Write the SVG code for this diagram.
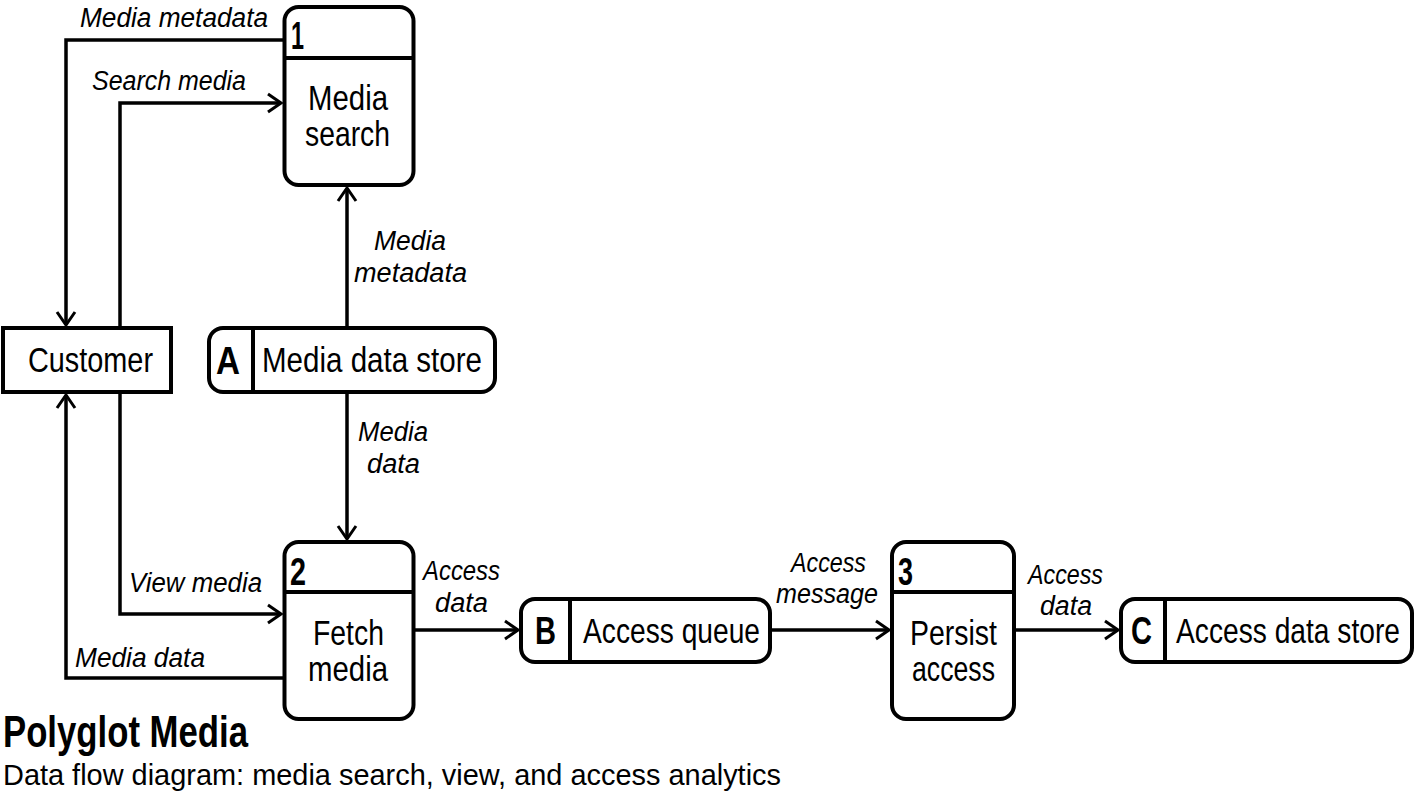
<svg xmlns="http://www.w3.org/2000/svg" width="1415" height="798" viewBox="0 0 1415 798">
<style>
text{font-family:"Liberation Sans Narrow","Liberation Sans","Open Sans",sans-serif;fill:#000}
.n{font-size:35px}
.num{font-size:38px;font-weight:bold}
.lab{font-size:27px;font-style:italic}
.box{fill:#fff;stroke:#000;stroke-width:4}
.div{stroke:#000;stroke-width:4}
.con{fill:none;stroke:#000;stroke-width:3.5;marker-end:url(#arr)}
</style>
<defs>
<marker id="arr" markerUnits="userSpaceOnUse" viewBox="-16 -12 18 24" refX="0" refY="0" markerWidth="18" markerHeight="24" orient="auto">
<path d="M-13,-9 L0,0 L-13,9" fill="none" stroke="#000" stroke-width="3"/>
</marker>
</defs>
<rect width="1415" height="798" fill="#fff"/>
<g id="connectors">
<path class="con" d="M284,40 H66 V325"/>
<path class="con" d="M120,327 V103 H281"/>
<path class="con" d="M347,327 V188"/>
<path class="con" d="M347,393 V539"/>
<path class="con" d="M284,678 H66 V395"/>
<path class="con" d="M120,393 V614 H281"/>
<path class="con" d="M414,630 H518"/>
<path class="con" d="M771,630 H889"/>
<path class="con" d="M1015,630 H1118"/>
<text class="lab" x="80" y="27" textLength="188" lengthAdjust="spacingAndGlyphs">Media metadata</text>
<text class="lab" x="92" y="90" textLength="154" lengthAdjust="spacingAndGlyphs">Search media</text>
<text class="lab" x="374" y="250" textLength="72" lengthAdjust="spacingAndGlyphs">Media</text>
<text class="lab" x="354" y="282" textLength="113" lengthAdjust="spacingAndGlyphs">metadata</text>
<text class="lab" x="358" y="441" textLength="70" lengthAdjust="spacingAndGlyphs">Media</text>
<text class="lab" x="367" y="473" textLength="53" lengthAdjust="spacingAndGlyphs">data</text>
<text class="lab" x="129" y="592" textLength="133" lengthAdjust="spacingAndGlyphs">View media</text>
<text class="lab" x="75" y="667" textLength="130" lengthAdjust="spacingAndGlyphs">Media data</text>
<text class="lab" x="423" y="580" textLength="77" lengthAdjust="spacingAndGlyphs">Access</text>
<text class="lab" x="435" y="612" textLength="53" lengthAdjust="spacingAndGlyphs">data</text>
<text class="lab" x="791" y="572" textLength="75" lengthAdjust="spacingAndGlyphs">Access</text>
<text class="lab" x="776" y="603" textLength="102" lengthAdjust="spacingAndGlyphs">message</text>
<text class="lab" x="1028" y="584" textLength="75" lengthAdjust="spacingAndGlyphs">Access</text>
<text class="lab" x="1040" y="615" textLength="52" lengthAdjust="spacingAndGlyphs">data</text>
</g>
<g id="process1">
<rect class="box" x="284.5" y="7" width="129" height="178" rx="14"/>
<line class="div" x1="284.5" y1="58" x2="413.5" y2="58"/>
<text class="num" x="291" y="49" textLength="13" lengthAdjust="spacingAndGlyphs">1</text>
<text class="n" x="308" y="110" textLength="80" lengthAdjust="spacingAndGlyphs">Media</text>
<text class="n" x="305" y="146" textLength="85" lengthAdjust="spacingAndGlyphs">search</text>
</g>
<g id="customer">
<rect class="box" x="3" y="328" width="168" height="64"/>
<text class="n" x="28" y="372" textLength="125" lengthAdjust="spacingAndGlyphs">Customer</text>
</g>
<g id="storeA">
<rect class="box" x="209" y="328" width="286" height="64" rx="14"/>
<line class="div" x1="253" y1="328" x2="253" y2="392"/>
<text class="num" x="216" y="374" textLength="24" lengthAdjust="spacingAndGlyphs">A</text>
<text class="n" x="262" y="372" textLength="220" lengthAdjust="spacingAndGlyphs">Media data store</text>
</g>
<g id="process2">
<rect class="box" x="284.5" y="542" width="129" height="177" rx="14"/>
<line class="div" x1="284.5" y1="592" x2="413.5" y2="592"/>
<text class="num" x="290" y="585" textLength="16" lengthAdjust="spacingAndGlyphs">2</text>
<text class="n" x="313" y="645" textLength="71" lengthAdjust="spacingAndGlyphs">Fetch</text>
<text class="n" x="308" y="681" textLength="80" lengthAdjust="spacingAndGlyphs">media</text>
</g>
<g id="storeB">
<rect class="box" x="521" y="599" width="249" height="63" rx="14"/>
<line class="div" x1="570" y1="599" x2="570" y2="662"/>
<text class="num" x="535" y="644" textLength="21" lengthAdjust="spacingAndGlyphs">B</text>
<text class="n" x="583" y="643" textLength="177" lengthAdjust="spacingAndGlyphs">Access queue</text>
</g>
<g id="process3">
<rect class="box" x="892" y="542" width="122" height="177" rx="14"/>
<line class="div" x1="892" y1="592" x2="1014" y2="592"/>
<text class="num" x="898" y="585" textLength="15" lengthAdjust="spacingAndGlyphs">3</text>
<text class="n" x="910" y="645" textLength="87" lengthAdjust="spacingAndGlyphs">Persist</text>
<text class="n" x="912" y="681" textLength="83" lengthAdjust="spacingAndGlyphs">access</text>
</g>
<g id="storeC">
<rect class="box" x="1121" y="599" width="291" height="63" rx="14"/>
<line class="div" x1="1165" y1="599" x2="1165" y2="662"/>
<text class="num" x="1131" y="644" textLength="21" lengthAdjust="spacingAndGlyphs">C</text>
<text class="n" x="1176" y="643" textLength="224" lengthAdjust="spacingAndGlyphs">Access data store</text>
</g>
<g id="title">
<text x="3" y="747" font-size="44" font-weight="bold" textLength="245" lengthAdjust="spacingAndGlyphs">Polyglot Media</text>
<text x="3" y="785" font-size="30" textLength="778" lengthAdjust="spacingAndGlyphs">Data flow diagram: media search, view, and access analytics</text>
</g>
</svg>
